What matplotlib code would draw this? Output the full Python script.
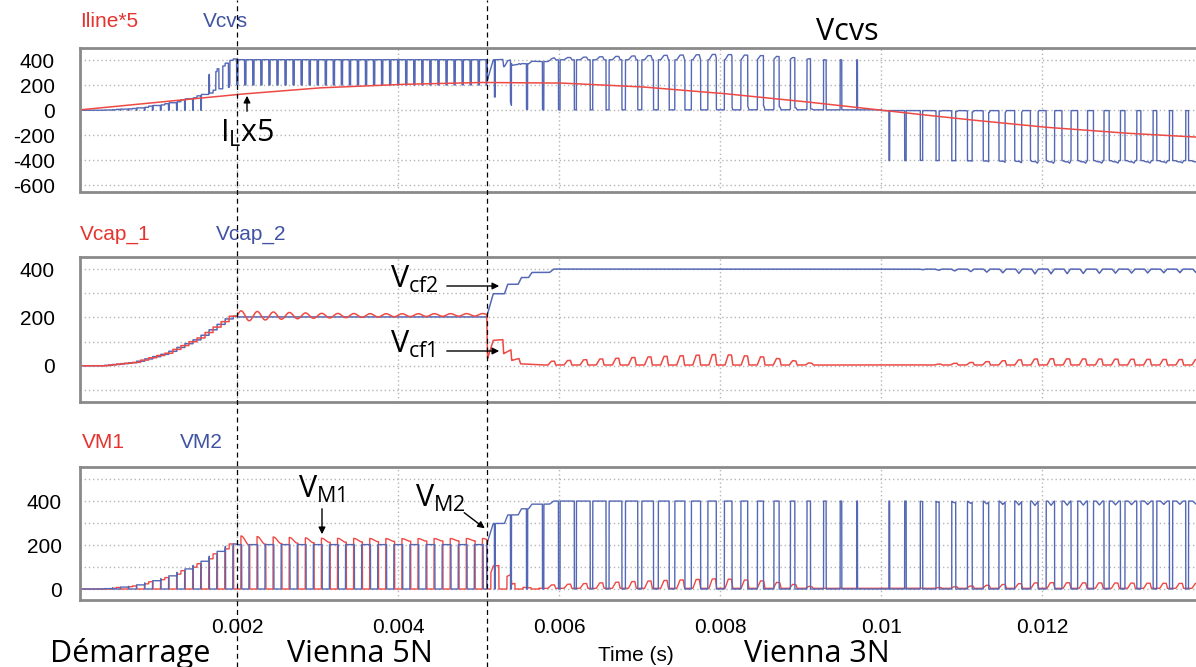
import numpy as np
import matplotlib.pyplot as plt
from matplotlib import transforms
from matplotlib.lines import Line2D
from matplotlib.patches import FancyArrowPatch

plt.rcParams['font.family'] = ['Liberation Sans', 'DejaVu Sans']
plt.rcParams['axes.unicode_minus'] = False
plt.rcParams['mathtext.fontset'] = 'custom'
plt.rcParams['mathtext.rm'] = 'Open Sans'
plt.rcParams['mathtext.it'] = 'Open Sans'

# ---- values ----
t_sw = 0.0002            # switching period
t_5n = 0.002             # start-up -> Vienna 5N
t_3n = 0.0051            # Vienna 5N -> Vienna 3N
t_zero = 0.01            # line current zero crossing

# Iline*5
iline_t = [0, 0.001, 0.002, 0.003, 0.004, 0.005, 0.006, 0.007, 0.008,
           0.009, 0.010, 0.011, 0.012, 0.013, 0.0140]
iline_v = [0, 62, 126, 178, 206, 222, 218, 188, 136, 72, 0, -70, -134, -182, -218]

# capacitor voltage during start-up
cap_t = [0, 0.0004, 0.0008, 0.0012, 0.0016, 0.002]
cap_v = [0, 0, 14, 52, 115, 205]

# Vienna 5N: Vcap_1 mean / ripple, Vcap_2 level, VM1 top above Vcap_1
v5n_t = [0.002, 0.0022, 0.0025, 0.003, 0.004, 0.0051]
vcap1_mean = [206, 206, 207, 207, 209, 211]
vcap1_rip = [22, 19, 15, 10, 6, 5]
vcap2_5n = 202
vm1_lift = 14

# Vienna 3N: steps right after the change of mode
vc2_step_t = [0.0051, 0.00518, 0.00532, 0.00536, 0.00549, 0.00553,
              0.00562, 0.00566, 0.00588, 0.00593]
vc2_step_v = [204, 298, 298, 337, 337, 365, 365, 386, 386, 400]
vc1_step_t = [0.0051, 0.00511, 0.00518, 0.0053, 0.00531, 0.0054,
              0.00541, 0.0055, 0.00552, 0.0058]
vc1_step_v = [211, 30, 105, 108, 50, 66, 22, 30, 8, 3]

# Vienna 3N ripple envelopes
rip1_t = [0.0058, 0.007, 0.008, 0.0086, 0.0093, 0.0105, 0.0112, 0.012, 0.0140]
rip1_a = [14, 32, 44, 32, 0, 0, 12, 26, 22]
rip2_t = [0.0103, 0.0112, 0.0119, 0.0140]
rip2_a = [0, 12, 20, 14]

# duty cycles
duty3_t = [0.0051, 0.006, 0.007, 0.008, 0.009, 0.0096, 0.0099, 0.0102,
           0.011, 0.012, 0.013, 0.0140]
duty3_v = [0.96, 0.9, 0.75, 0.5, 0.25, 0.07, 0.0, 0.07, 0.27, 0.5, 0.72, 0.85]
dvcvs_t = [0, 0.0016, 0.0019, 0.0051]
dvcvs_v = [0.46, 0.46, 0.92, 0.92]
dvm_t = [0, 0.002, 0.0051]
dvm_v = [0.5, 0.55, 0.55]

# ---- build the traces ----
t = np.arange(0, 0.01396, 5e-7)
pre3 = t < t_3n
start = t < t_5n
mid = (~start) & pre3


def pwm(duty, shift):
    ph = (t / t_sw + shift) % 1.0
    return (np.abs(ph - 0.5) < duty / 2).astype(float)


def hold(offset):
    step = t_sw / 2
    tk = np.floor((t - offset) / step) * step + offset + step
    return np.interp(tk, cap_t, cap_v)


phase = (t / t_sw) % 1.0
trap = np.interp(phase, [0, 0.3, 0.5, 0.7, 0.78, 1], [0, 0, 1, 1, 0, 0])
dip = np.interp(phase, [0, 0.35, 0.55, 0.75, 1], [0, 0, 1, 0, 0])

vcap1 = np.where(start, hold(0.0), 0.0)
vcap1 = np.where(mid, np.interp(t, v5n_t, vcap1_mean)
                 + np.interp(t, v5n_t, vcap1_rip) * np.sin(2 * np.pi * (t - t_5n) / t_sw), vcap1)
late1 = np.where(t < 0.0058, np.interp(t, vc1_step_t, vc1_step_v),
                 3 + np.interp(t, rip1_t, rip1_a) * trap)
vcap1 = np.where(pre3, vcap1, late1)

vcap2 = np.where(start, hold(t_sw / 4), vcap2_5n)
late2 = np.where(t < 0.00593, np.interp(t, vc2_step_t, vc2_step_v),
                 400 - np.interp(t, rip2_t, rip2_a, left=0) * dip)
vcap2 = np.where(pre3, vcap2, late2)

d3 = np.interp(t, duty3_t, duty3_v)
dv = np.interp(t, dvcvs_t, dvcvs_v)
dm = np.interp(t, dvm_t, dvm_v)
s3 = pwm(d3, 0.0)

vm1_top = np.where(mid, vcap1 + vm1_lift, vcap1)
vm1_late = vcap1 * np.where(t < 0.0058, pwm(0.5, 0.5), 1.0)
vm1 = np.where(pre3, vm1_top * pwm(dm, 0.0), vm1_late)
vm2 = np.where(pre3, vcap2 * pwm(dm, 0.5), vcap2 * s3)

sgn = np.where(t < t_zero, 1.0, -1.0)
vcvs_pre = np.where(start, vcap1 * pwm(dv, 0.0) + vcap2 * pwm(dv, 0.5),
                    vcap2_5n * (pwm(dv, 0.0) + pwm(dv, 0.5)))
vcvs = np.where(pre3, vcvs_pre, sgn * (vcap2 * s3 + vcap1))
iline = np.interp(t, iline_t, iline_v)

# ---- figure ----
W, H = 1196, 667
fig = plt.figure(figsize=(W / 100, H / 100), dpi=100)

RED = '#ee4a45'
BLUE = '#5568b5'
LRED = '#e5342f'
LBLUE = '#4053a3'


def make_ax(top, bottom):
    ax = fig.add_axes([80 / W, 1 - bottom / H, (1200 - 80) / W, (bottom - top) / H])
    ax.set_xlim(0.0000472, 0.01396)
    for s in ax.spines.values():
        s.set_color('#8a8a8a')
        s.set_linewidth(2.0)
    ax.tick_params(length=0, labelsize=15, pad=18, which='both')
    ax.set_xticks([0.002, 0.004, 0.006, 0.008, 0.01, 0.012])
    ax.grid(True, which='both', color='#b5b5b5', linestyle=(0, (1, 2)), linewidth=1)
    ax.tick_params(labelbottom=False)
    return ax


ax1 = make_ax(47.7, 191.5)
ax1.set_ylim(-650, 500)
ax1.set_yticks([-600, -400, -200, 0, 200, 400])
ax1.plot(t, vcvs, color=BLUE, lw=1.0)
ax1.plot(t, iline, color=RED, lw=1.1)

ax2 = make_ax(257, 402)
ax2.set_ylim(-150, 450)
ax2.set_yticks([0, 200, 400])
ax2.set_yticks([-100, 100, 300], minor=True)
ax2.plot(t, vcap2, color=BLUE, lw=1.1)
ax2.plot(t, vcap1, color=RED, lw=1.1)

ax3 = make_ax(467, 600)
ax3.set_ylim(-50, 555)
ax3.set_yticks([0, 200, 400])
ax3.set_yticks([100, 300, 500], minor=True)
ax3.plot(t, vm1, color=RED, lw=1.0)
ax3.plot(t, vm2, color=BLUE, lw=1.0)
ax3.tick_params(labelbottom=True, pad=13)
ax3.set_xticklabels(['0.002', '0.004', '0.006', '0.008', '0.01', '0.012'])

# mode change markers across the whole figure
blend = transforms.blended_transform_factory(ax1.transData, fig.transFigure)
for tm in (t_5n, t_3n):
    fig.add_artist(Line2D([tm, tm], [0, 1], transform=blend, color='black',
                          lw=0.9, dashes=(4, 3), zorder=10))


def ftxt(x, y, s, **kw):
    fig.text(x / W, 1 - y / H, s, **kw)


small = dict(fontsize=15, va='baseline')
ftxt(80, 27, 'Iline*5', color=LRED, **small)
ftxt(203, 27, 'Vcvs', color=LBLUE, **small)
ftxt(80, 240, 'Vcap_1', color=LRED, **small)
ftxt(216, 240, 'Vcap_2', color=LBLUE, **small)
ftxt(82, 448, 'VM1', color=LRED, **small)
ftxt(180, 448, 'VM2', color=LBLUE, **small)
ftxt(598, 661, 'Time (s)', fontsize=15, va='baseline')

big = dict(fontsize=22, fontfamily='Open Sans', va='baseline', color='black')
ftxt(847, 40, 'Vcvs', ha='center', **big)
ftxt(50, 662, 'Démarrage', **big)
ftxt(287, 662, 'Vienna 5N', **big)
ftxt(744, 662, 'Vienna 3N', **big)
ftxt(220, 142, r'I$_{\mathrm{L}}$x5', **big)
ftxt(390, 288, r'V$_{\mathrm{cf2}}$', **big)
ftxt(390, 353, r'V$_{\mathrm{cf1}}$', **big)
ftxt(298, 498, r'V$_{\mathrm{M1}}$', **big)
ftxt(415, 507, r'V$_{\mathrm{M2}}$', **big)

arrows = [((247, 114), (247, 93)), ((444, 286), (502, 286)), ((444, 351), (502, 351)),
          ((322, 506), (322, 537)), ((462, 511), (487, 530))]
for (x0, y0), (x1, y1) in arrows:
    fig.add_artist(FancyArrowPatch(
        (x0 / W, 1 - y0 / H), (x1 / W, 1 - y1 / H), transform=fig.transFigure,
        arrowstyle='-|>', mutation_scale=10, color='black', lw=1.0, zorder=11))

fig.savefig('out.png', dpi=100)
